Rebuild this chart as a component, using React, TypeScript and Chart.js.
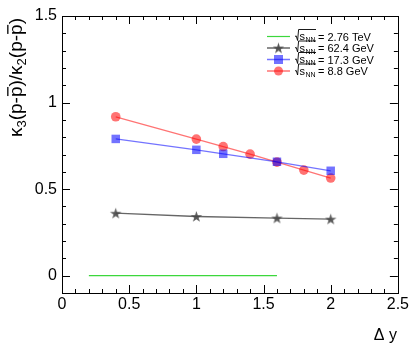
import React, { useEffect, useRef } from "react";
import { Chart, registerables } from "chart.js";

Chart.register(...registerables);

// ---- data ----
const xRed = [0.4, 1.0, 1.2, 1.4, 1.6, 1.8, 2.0];
const yRed = [0.918, 0.789, 0.746, 0.702, 0.656, 0.61, 0.564];
const xBlue = [0.4, 1.0, 1.2, 1.6, 2.0];
const yBlue = [0.79, 0.727, 0.704, 0.658, 0.606];
const xGray = [0.4, 1.0, 1.6, 2.0];
const yGray = [0.361, 0.342, 0.333, 0.327];
const xGreen = [0.2, 1.6];
const yGreen = [0, 0];
const xTicks = [0, 0.5, 1, 1.5, 2, 2.5];
const yTicks = [0, 0.5, 1, 1.5];
const legendLabels = ["= 2.76 TeV", "= 62.4 GeV", "= 17.3 GeV", "= 8.8 GeV"];

const FONT = "'Liberation Sans', Arial, Helvetica, sans-serif";
const RED = "rgba(255,0,0,0.55)";
const BLUE = "rgba(0,0,255,0.55)";
const GRAY_LINE = "rgba(0,0,0,0.6)";
const GREEN = "rgb(60,215,60)";

function makeStar(size: number, color: string): HTMLCanvasElement {
  const c = document.createElement("canvas");
  c.width = size;
  c.height = size;
  const g = c.getContext("2d")!;
  const cx = size / 2, cy = size / 2 + 0.5;
  const R = size / 2 - 0.5, r = R * 0.38;
  g.beginPath();
  for (let i = 0; i < 10; i++) {
    const rad = i % 2 === 0 ? R : r;
    const a = -Math.PI / 2 + (i * Math.PI) / 5;
    const px = cx + rad * Math.cos(a);
    const py = cy + rad * Math.sin(a);
    if (i === 0) g.moveTo(px, py);
    else g.lineTo(px, py);
  }
  g.closePath();
  g.fillStyle = color;
  g.fill();
  return c;
}

const zip = (xs: number[], ys: number[]) => xs.map((x, i) => ({ x, y: ys[i] }));

export default function App() {
  const ref = useRef<HTMLCanvasElement | null>(null);
  useEffect(() => {
    if (!ref.current) return;
    const star = makeStar(13, "rgba(70,70,70,0.9)");

    const framePlugin = {
      id: "frame",
      afterDraw(chart: any) {
        const ctx = chart.ctx as CanvasRenderingContext2D;
        const { left, right, top, bottom } = chart.chartArea;
        const xs = chart.scales.x;
        const ys = chart.scales.y;
        ctx.save();
        ctx.strokeStyle = "#000";
        ctx.lineWidth = 1;
        ctx.strokeRect(Math.round(left) + 0.5, Math.round(top) + 0.5, Math.round(right - left), Math.round(bottom - top));
        ctx.beginPath();
        // x ticks
        for (let i = 0; i <= 25; i++) {
          const v = i / 10;
          const px = Math.round(xs.getPixelForValue(v)) + 0.5;
          const len = i % 5 === 0 ? 8 : 4;
          ctx.moveTo(px, bottom);
          ctx.lineTo(px, bottom - len);
          ctx.moveTo(px, top);
          ctx.lineTo(px, top + len);
        }
        // y ticks
        for (let i = -1; i <= 15; i++) {
          const v = i / 10;
          const py = Math.round(ys.getPixelForValue(v)) + 0.5;
          const len = i % 5 === 0 ? 8 : 4;
          ctx.moveTo(left, py);
          ctx.lineTo(left + len, py);
          ctx.moveTo(right, py);
          ctx.lineTo(right - len, py);
        }
        ctx.stroke();

        // y title (rotated)
        ctx.fillStyle = "#000";
        ctx.translate(22, 137);
        ctx.rotate(-Math.PI / 2);
        const fs = 19;
        const sub = 13;
        let x = 0;
        const put = (t: string, size: number, dy: number) => {
          ctx.font = `${size}px ${FONT}`;
          ctx.textBaseline = "alphabetic";
          ctx.fillText(t, x, dy);
          const w = ctx.measureText(t).width;
          x += w;
          return w;
        };
        const pbar = () => {
          ctx.font = `${fs}px ${FONT}`;
          const w = ctx.measureText("p").width;
          const x0 = x;
          put("p", fs, 0);
          ctx.fillRect(x0 + 1, -fs * 0.78, w - 1.5, 1.3);
        };
        put("\u03BA", fs, 0);
        put("3", sub, 4);
        put("(p-", fs, 0);
        pbar();
        put(")/\u03BA", fs, 0);
        put("2", sub, 4);
        put("(p-", fs, 0);
        pbar();
        put(")", fs, 0);
        ctx.setTransform(1, 0, 0, 1, 0, 0);

        // x title
        ctx.font = `16px ${FONT}`;
        ctx.textAlign = "right";
        ctx.textBaseline = "alphabetic";
        ctx.fillStyle = "#000";
        ctx.fillText("\u0394 y", 397, 340);

        // legend
        const rowsY = [36.5, 48, 59.5, 71];
        const lx0 = 267, lx1 = 290;
        const lmid = (lx0 + lx1) / 2;
        rowsY.forEach((yy, i) => {
          ctx.lineWidth = i === 0 ? 1.2 : 1.5;
          ctx.strokeStyle = [GREEN, GRAY_LINE, BLUE, RED][i];
          ctx.beginPath();
          ctx.moveTo(lx0, yy);
          ctx.lineTo(lx1, yy);
          ctx.stroke();
          if (i === 1) ctx.drawImage(star, lmid - 6.5, yy - 6.5);
          if (i === 2) {
            ctx.fillStyle = BLUE;
            ctx.fillRect(lmid - 4.5, yy - 4.5, 9, 9);
          }
          if (i === 3) {
            ctx.fillStyle = RED;
            ctx.beginPath();
            ctx.arc(lmid, yy, 4.5, 0, Math.PI * 2);
            ctx.fill();
          }
          // sqrt(s_NN)
          ctx.strokeStyle = "#000";
          ctx.lineWidth = 0.9;
          const sx = 295;
          ctx.beginPath();
          ctx.moveTo(sx, yy);
          ctx.lineTo(sx + 1.2, yy - 0.6);
          ctx.lineTo(sx + 2.6, yy + 4);
          ctx.lineTo(sx + 3.6, yy - 7);
          ctx.lineTo(sx + 21, yy - 7);
          ctx.stroke();
          ctx.fillStyle = "#000";
          ctx.textAlign = "left";
          ctx.textBaseline = "alphabetic";
          ctx.font = `11px ${FONT}`;
          ctx.fillText("s", sx + 4.5, yy + 3.5);
          ctx.font = `7px ${FONT}`;
          ctx.fillText("NN", sx + 10.5, yy + 5.5);
          ctx.font = `11px ${FONT}`;
          ctx.fillText(legendLabels[i], sx + 23, yy + 4);
        });
        ctx.restore();
      },
    };

    const chart = new Chart(ref.current, {
      type: "scatter",
      data: {
        datasets: [
          {
            data: zip(xGreen, yGreen),
            showLine: true,
            borderColor: GREEN,
            borderWidth: 1.3,
            pointRadius: 0,
          },
          {
            data: zip(xGray, yGray),
            showLine: true,
            borderColor: GRAY_LINE,
            borderWidth: 1.3,
            pointStyle: star as any,
            pointRadius: 6,
          },
          {
            data: zip(xBlue, yBlue),
            showLine: true,
            borderColor: BLUE,
            borderWidth: 1.3,
            pointStyle: "rect",
            pointRadius: 6,
            pointBackgroundColor: BLUE,
            pointBorderWidth: 0,
          },
          {
            data: zip(xRed, yRed),
            showLine: true,
            borderColor: RED,
            borderWidth: 1.3,
            pointStyle: "circle",
            pointRadius: 4.8,
            pointBackgroundColor: RED,
            pointBorderWidth: 0,
          },
        ],
      },
      options: {
        animation: false,
        responsive: false,
        events: [],
        layout: { padding: { left: 0, right: 13, top: 16, bottom: 0 } },
        plugins: { legend: { display: false }, tooltip: { enabled: false } },
        scales: {
          x: {
            type: "linear",
            min: 0,
            max: 2.5,
            grid: { display: false, drawTicks: false },
            border: { display: false },
            afterBuildTicks: (s: any) => {
              s.ticks = xTicks.map((v) => ({ value: v }));
            },
            afterFit: (s: any) => {
              s.height = 55;
            },
            ticks: {
              padding: 2,
              maxRotation: 0,
              autoSkip: false,
              color: "#000",
              font: { family: FONT, size: 16 },
              callback: (v: any) => String(v),
            },
          },
          y: {
            type: "linear",
            min: -0.1,
            max: 1.5,
            grid: { display: false, drawTicks: false },
            border: { display: false },
            afterBuildTicks: (s: any) => {
              s.ticks = yTicks.map((v) => ({ value: v }));
            },
            afterFit: (s: any) => {
              s.width = 62;
            },
            ticks: {
              padding: 5,
              autoSkip: false,
              color: "#000",
              font: { family: FONT, size: 16 },
              callback: (v: any) => String(v),
            },
          },
        },
      },
      plugins: [framePlugin],
    } as any);
    return () => chart.destroy();
  }, []);
  return (
    <canvas
      ref={ref}
      width={411}
      height={348}
      style={{ position: "absolute", left: 0, top: 0, width: 411, height: 348, display: "block" }}
    />
  );
}
